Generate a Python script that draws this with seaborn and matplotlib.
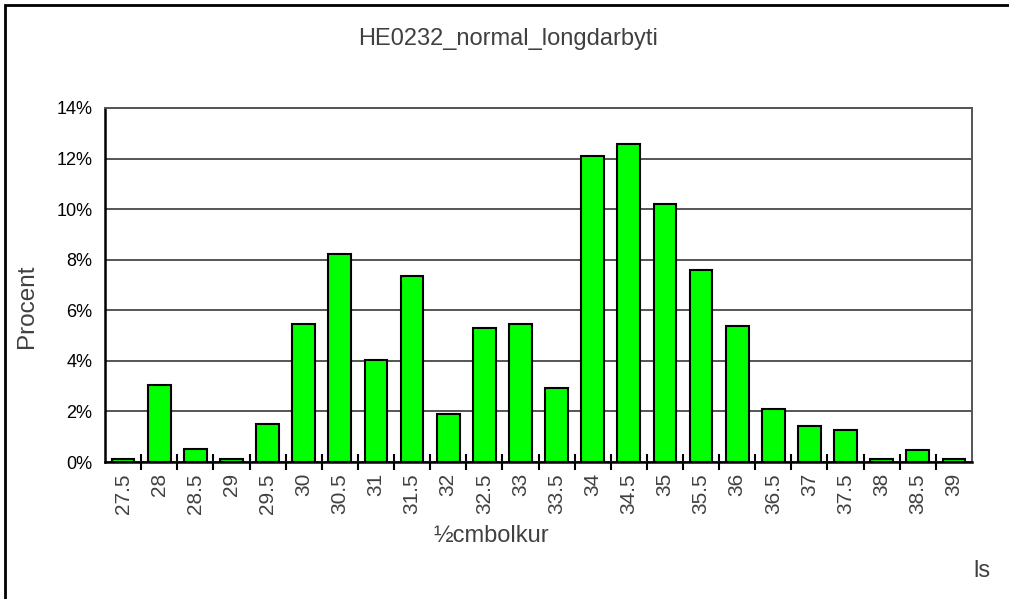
import matplotlib
matplotlib.use("Agg")
import matplotlib.pyplot as plt
from matplotlib.patches import Rectangle
from matplotlib.ticker import FuncFormatter, FixedLocator
import seaborn as sns
import pandas as pd

# length classes (half-cm) and share of fish in percent
lengths = ["27.5", "28", "28.5", "29", "29.5", "30", "30.5", "31", "31.5", "32",
           "32.5", "33", "33.5", "34", "34.5", "35", "35.5", "36", "36.5", "37",
           "37.5", "38", "38.5", "39"]
percent = [0.13, 3.06, 0.53, 0.13, 1.49, 5.44, 8.23, 4.03, 7.36, 1.88,
           5.30, 5.44, 2.92, 12.11, 12.59, 10.21, 7.60, 5.38, 2.11, 1.41,
           1.25, 0.13, 0.46, 0.13]

df = pd.DataFrame({"lengd": lengths, "procent": percent})

sns.set_style("white")
plt.rcParams["font.family"] = ["Liberation Sans", "DejaVu Sans"]
txt = "#404040"

fig = plt.figure(figsize=(10.09, 5.99), dpi=100)
ax = fig.add_axes([0.1041, 0.2287, 0.8592, 0.591])

sns.barplot(data=df, x="lengd", y="procent", color="#00ff00", saturation=1,
            width=0.63, edgecolor="black", linewidth=1.5, ax=ax, zorder=3)

ax.set_ylim(0, 14)
ax.set_xlim(-0.5, len(lengths) - 0.5)
ax.set_yticks(range(0, 15, 2))
ax.yaxis.set_major_formatter(FuncFormatter(lambda v, p: f"{v:.0f}%"))
ax.grid(axis="y", color="#555555", linewidth=1.4, zorder=0)
ax.set_axisbelow(True)

# category boundary ticks on x axis
ax.xaxis.set_minor_locator(FixedLocator([i + 0.5 for i in range(len(lengths) - 1)]))
ax.tick_params(axis="x", which="major", length=0, pad=8, labelsize=15,
               labelrotation=90, labelcolor=txt)
ax.tick_params(axis="x", which="minor", length=11, width=1.5, direction="inout",
               color="black", bottom=True)
ax.tick_params(axis="y", length=0, labelsize=13, labelcolor="black", pad=9)

for s in ["left", "bottom"]:
    ax.spines[s].set_color("black")
    ax.spines[s].set_linewidth(1.8)
for s in ["top", "right"]:
    ax.spines[s].set_color("#555555")
    ax.spines[s].set_linewidth(1.4)

ax.set_xlabel("")
ax.set_ylabel("")

fig.text(491 / 1009, 1 - 536 / 599, "½cmbolkur", ha="center", va="center",
         fontsize=17, color=txt)
fig.text(27 / 1009, 1 - 306 / 599, "Procent", ha="center", va="center",
         rotation=90, fontsize=17.5, color=txt)
fig.text(508 / 1009, 1 - 45 / 599, "HE0232_normal_longdarbyti", ha="center",
         va="baseline", fontsize=17, color=txt)
fig.text(982 / 1009, 1 - 577 / 599, "ls", ha="center", va="baseline",
         fontsize=17, color=txt)

# outer chart frame
fig.patches.append(Rectangle((5 / 1009, -0.01), 1.0, 1 - 5 / 599 + 0.01,
                             transform=fig.transFigure, fill=False,
                             edgecolor="black", linewidth=2))

fig.savefig("out.png", dpi=100)
